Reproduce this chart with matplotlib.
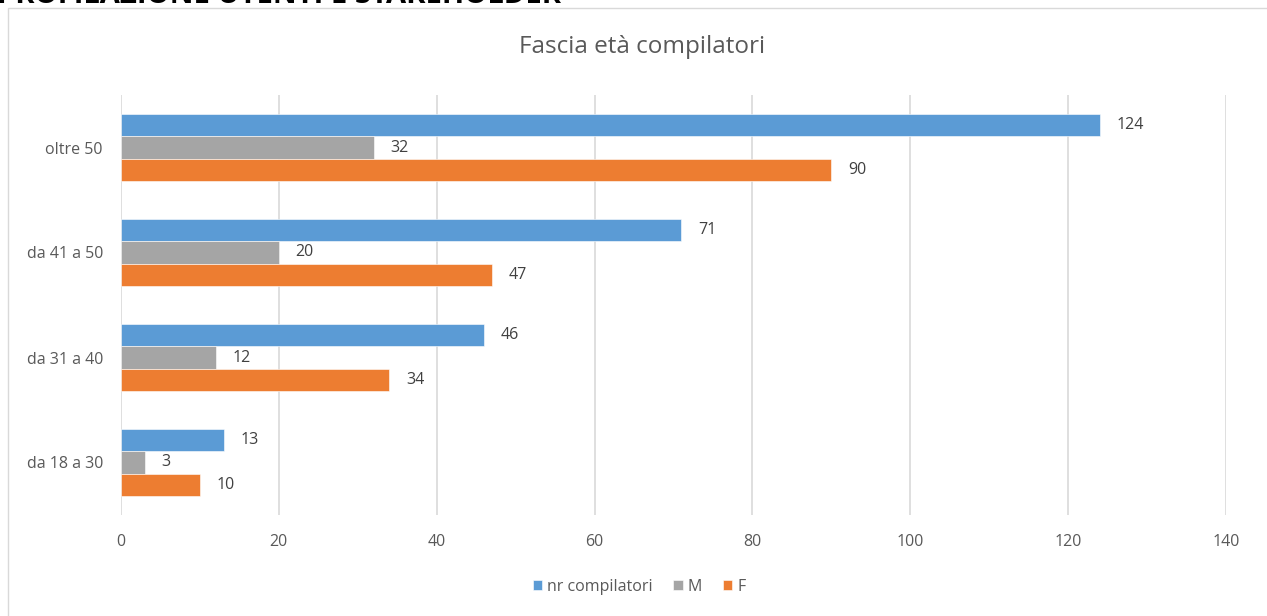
import matplotlib.pyplot as plt
import numpy as np
from matplotlib.patches import Rectangle

plt.rcParams['font.family'] = ['Open Sans', 'DejaVu Sans']

# data
categorie = ['da 18 a 30', 'da 31 a 40', 'da 41 a 50', 'oltre 50']
nr_compilatori = [13, 46, 71, 124]
maschi = [3, 12, 20, 32]
femmine = [10, 34, 47, 90]
serie = ['nr compilatori', 'M', 'F']
colori = ['#5B9BD5', '#A5A5A5', '#ED7D31']
xticks = [0, 20, 40, 60, 80, 100, 120, 140]

fig = plt.figure(figsize=(12.67, 6.16), dpi=100)

# cornice del grafico
fig.patches.append(Rectangle((8 / 1267, -0.1), 1.1, 1 - 8 / 616 + 0.1,
                             transform=fig.transFigure, fill=False,
                             edgecolor='#D9D9D9', lw=1))
# intestazione tagliata in alto
fig.text(-0.002, 1 - 3 / 616, 'PROFILAZIONE UTENTI E STAKEHOLDER', fontsize=21,
         fontweight='bold', color='black', ha='left', va='baseline')

ax = fig.add_axes([121 / 1267, 1 - 515 / 616, 1105 / 1267, 420 / 616])

y = np.arange(len(categorie))
h = 0.21
valori = [nr_compilatori, maschi, femmine]
for i, (vals, nome, col) in enumerate(zip(valori, serie, colori)):
    pos = y + (1 - i) * h
    bars = ax.barh(pos, vals, height=h, color=col, label=nome,
                   edgecolor='white', linewidth=0.4)
    for b, v in zip(bars, vals):
        ax.annotate(str(v), (b.get_width(), b.get_y() + b.get_height() / 2),
                    xytext=(12, 0), textcoords='offset points',
                    va='center', ha='left', fontsize=11.5, color='#404040')

ax.set_xlim(0, 140)
ax.set_ylim(-0.5, 3.5)
ax.set_xticks(xticks)
ax.set_yticks(y)
ax.set_yticklabels(categorie)
ax.tick_params(axis='both', length=0, labelsize=11.5, labelcolor='#595959')
ax.tick_params(axis='x', pad=14)
ax.tick_params(axis='y', pad=13)
ax.grid(axis='x', color='#D9D9D9', lw=1.2)
ax.set_axisbelow(True)
for s in ax.spines.values():
    s.set_visible(False)

fig.text(0.507, 1 - 47 / 616, 'Fascia età compilatori', fontsize=17.5,
         color='#595959', ha='center', va='center')

fig.legend(loc='center', bbox_to_anchor=(639 / 1267, 1 - 587 / 616), ncol=3,
           frameon=False, fontsize=11.5, handlelength=0.6, handleheight=0.6,
           handletextpad=0.3, columnspacing=1.3, labelcolor='#595959')

fig.savefig('out.png', dpi=100)
